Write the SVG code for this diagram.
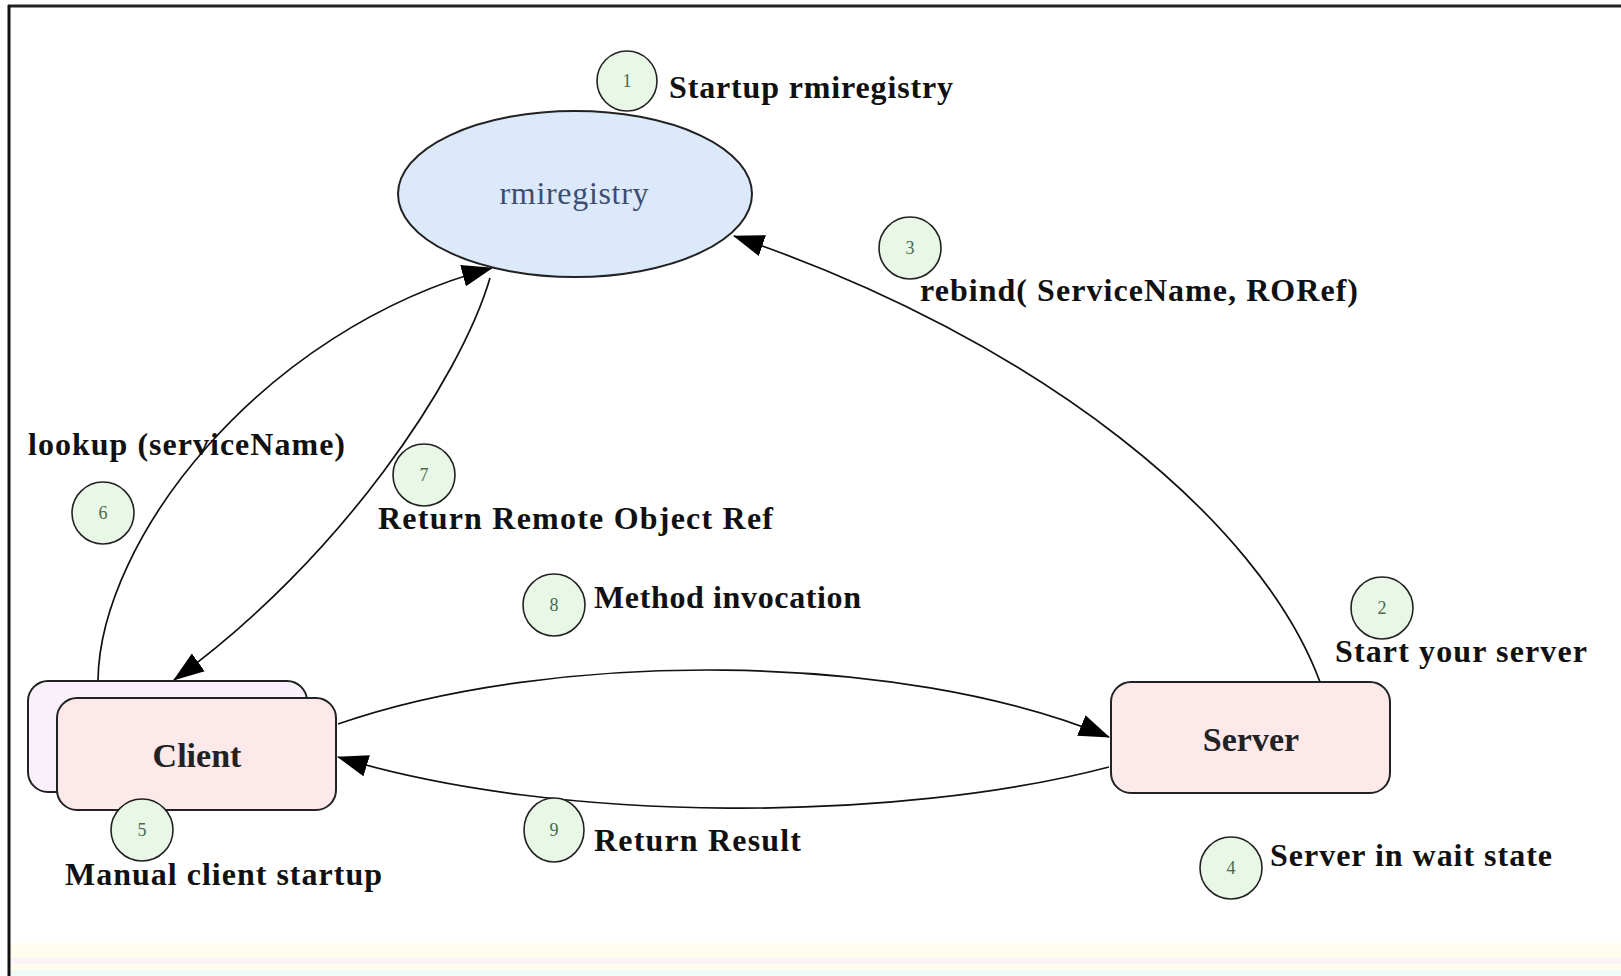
<svg xmlns="http://www.w3.org/2000/svg" width="1621" height="976" viewBox="0 0 1621 976">
<style>
.lbl{font-family:"Liberation Serif","Times New Roman",serif;font-weight:bold;font-size:32px;fill:#111}
.nodelbl{font-family:"Liberation Serif","Times New Roman",serif;font-weight:bold;font-size:34px;fill:#222;text-anchor:middle}
.num{font-family:"Liberation Serif","Times New Roman",serif;font-size:18px;fill:#4a6a4a;text-anchor:middle}
.step{fill:#e8f7e6;stroke:#222;stroke-width:1.6}
.box{stroke:#222;stroke-width:2}
.edge{fill:none;stroke:#111;stroke-width:1.7}
</style>
<defs>
<marker id="arr" markerUnits="userSpaceOnUse" markerWidth="32" markerHeight="22" refX="30" refY="11" orient="auto">
<path d="M0,0 L31,11 L0,22 z" fill="#000"/>
</marker>
</defs>
<rect x="0" y="0" width="1621" height="976" fill="#fff"/>
<rect x="9" y="943" width="1612" height="33" fill="#fffdee"/>
<rect x="9" y="958" width="1612" height="6" fill="#fcf2fa"/>
<rect x="9" y="970" width="1612" height="6" fill="#f1fbf6"/>
<line x1="8" y1="6" x2="1621" y2="6" stroke="#222" stroke-width="3"/>
<line x1="9" y1="5" x2="9" y2="976" stroke="#111" stroke-width="3"/>

<g id="connectors">
<path id="e-lookup" class="edge" d="M98,680 C100,540 260,330 492,268" marker-end="url(#arr)"/>
<path id="e-return-ref" class="edge" d="M490,278 C460,380 340,560 174,680" marker-end="url(#arr)"/>
<path id="e-rebind" class="edge" d="M1320,682 C1260,520 1040,340 734,236" marker-end="url(#arr)"/>
<path id="e-invoke" class="edge" d="M338,724 C550,650 900,650 1109,737" marker-end="url(#arr)"/>
<path id="e-result" class="edge" d="M1109,767 C900,822 560,825 338,757" marker-end="url(#arr)"/>
</g>

<g id="rmiregistry">
<ellipse cx="575" cy="194" rx="177" ry="83" fill="#dbe9fb" stroke="#222" stroke-width="2"/>
<text x="574" y="204" text-anchor="middle" font-family="Liberation Serif, Times New Roman, serif" font-size="32" fill="#3d4d70" textLength="149" lengthAdjust="spacing">rmiregistry</text>
</g>

<g id="client">
<rect class="box" x="28" y="681" width="279" height="111" rx="20" fill="#faf0fc"/>
<rect class="box" x="57" y="698" width="279" height="112" rx="20" fill="#fde9e9"/>
<text class="nodelbl" x="197" y="767">Client</text>
</g>

<g id="server">
<rect class="box" x="1111" y="682" width="279" height="111" rx="20" fill="#fde9e9"/>
<text class="nodelbl" x="1251" y="751">Server</text>
</g>

<g id="step1">
<circle class="step" cx="627" cy="81" r="30"/>
<text class="num" x="627" y="87">1</text>
<text class="lbl" x="669" y="98" textLength="284" lengthAdjust="spacing">Startup rmiregistry</text>
</g>
<g id="step2">
<circle class="step" cx="1382" cy="608" r="31"/>
<text class="num" x="1382" y="614">2</text>
<text class="lbl" x="1335" y="662" textLength="252" lengthAdjust="spacing">Start your server</text>
</g>
<g id="step3">
<circle class="step" cx="910" cy="248" r="31"/>
<text class="num" x="910" y="254">3</text>
<text class="lbl" x="920" y="301" textLength="438" lengthAdjust="spacing">rebind( ServiceName, RORef)</text>
</g>
<g id="step4">
<circle class="step" cx="1231" cy="868" r="31"/>
<text class="num" x="1231" y="874">4</text>
<text class="lbl" x="1270" y="866" textLength="282" lengthAdjust="spacing">Server in wait state</text>
</g>
<g id="step5">
<circle class="step" cx="142" cy="830" r="31"/>
<text class="num" x="142" y="836">5</text>
<text class="lbl" x="65" y="885" textLength="317" lengthAdjust="spacing">Manual client startup</text>
</g>
<g id="step6">
<circle class="step" cx="103" cy="513" r="31"/>
<text class="num" x="103" y="519">6</text>
<text class="lbl" x="28" y="455" textLength="317" lengthAdjust="spacing">lookup (serviceName)</text>
</g>
<g id="step7">
<circle class="step" cx="424" cy="475" r="31"/>
<text class="num" x="424" y="481">7</text>
<text class="lbl" x="378" y="529" textLength="395" lengthAdjust="spacing">Return Remote Object Ref</text>
</g>
<g id="step8">
<circle class="step" cx="554" cy="605" r="31"/>
<text class="num" x="554" y="611">8</text>
<text class="lbl" x="594" y="608" textLength="267" lengthAdjust="spacing">Method invocation</text>
</g>
<g id="step9">
<ellipse class="step" cx="554" cy="830" rx="30" ry="32"/>
<text class="num" x="554" y="836">9</text>
<text class="lbl" x="594" y="851" textLength="207" lengthAdjust="spacing">Return Result</text>
</g>
</svg>
